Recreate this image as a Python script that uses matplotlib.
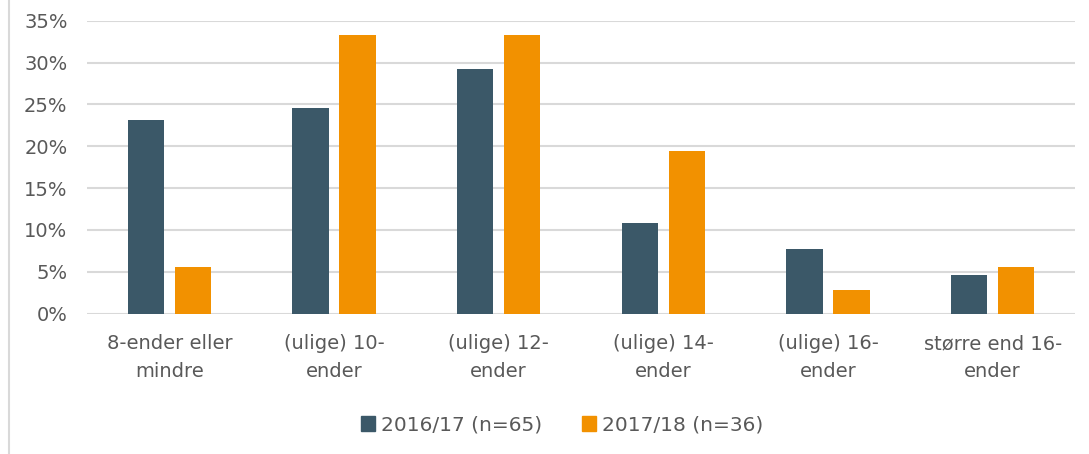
import numpy as np
import matplotlib.pyplot as plt
from matplotlib.lines import Line2D

categories = ["8-ender eller\nmindre", "(ulige) 10-\nender", "(ulige) 12-\nender",
              "(ulige) 14-\nender", "(ulige) 16-\nender", "større end 16-\nender"]
s1_label = "2016/17 (n=65)"
s2_label = "2017/18 (n=36)"
s1 = [23.1, 24.6, 29.2, 10.8, 7.7, 4.6]
s2 = [5.6, 33.3, 33.3, 19.4, 2.8, 5.6]
yticks = [0, 5, 10, 15, 20, 25, 30, 35]

c1 = "#3B5868"
c2 = "#F29100"
txt = "#595959"

plt.rcParams['font.family'] = ['DejaVu Sans']

fig = plt.figure(figsize=(10.89, 4.54), dpi=100)
ax = fig.add_axes([87/1089, 1 - 313.5/454, (1075-87)/1089, (313.5-20.7)/454])

x = np.arange(len(categories))
w = 0.22
off = 0.143
ax.bar(x - off, s1, w, color=c1, zorder=3)
ax.bar(x + off, s2, w, color=c2, zorder=3)

ax.set_xlim(-0.5, len(categories) - 0.5)
ax.set_ylim(0, 35)
ax.set_yticks(yticks)
ax.set_yticklabels([f"{v}%" for v in yticks])
ax.set_xticks(x)
ax.set_xticklabels(categories, linespacing=1.55)
ax.tick_params(axis='both', length=0, labelsize=14, colors=txt)
ax.tick_params(axis='x', pad=15)
ax.tick_params(axis='y', pad=14)
ax.grid(axis='y', color='#D9D9D9', linewidth=1.5, zorder=0)
for s in ax.spines.values():
    s.set_visible(False)

# left frame line
fig.add_artist(Line2D([8.5/1089, 8.5/1089], [0, 1], color='#D9D9D9', linewidth=1.5))

handles = [plt.Rectangle((0, 0), 1, 1, color=c1), plt.Rectangle((0, 0), 1, 1, color=c2)]
fig.legend(handles, [s1_label, s2_label], loc='center', bbox_to_anchor=(562/1089, 1 - 425/454),
           ncol=2, frameon=False, fontsize=14.5, labelcolor=txt, handlelength=0.7,
           handleheight=0.7, handletextpad=0.3, columnspacing=2.0)

fig.savefig("out.png", dpi=100)
